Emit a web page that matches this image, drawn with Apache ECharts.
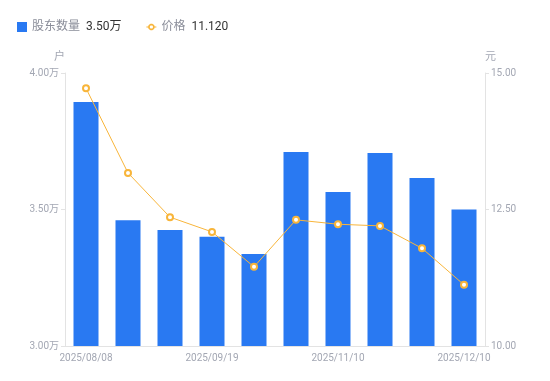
<!DOCTYPE html>
<html><head><meta charset="utf-8">
<script src="https://cdn.jsdelivr.net/npm/echarts@6/dist/echarts.min.js"></script>
<style>html,body{margin:0;padding:0;background:#fff}#c{width:550px;height:381px}</style>
</head><body><div id="c"></div>
<script>
const categories = ['2025/08/08','2025/08/20','2025/08/29','2025/09/19','2025/09/30','2025/10/20','2025/11/10','2025/11/20','2025/11/28','2025/12/10'];
const holders = [38940, 34610, 34250, 34000, 33370, 37110, 35640, 37070, 36150, 35000];
const prices = [14.72, 13.17, 12.36, 12.09, 11.45, 12.31, 12.23, 12.20, 11.79, 11.12];

function ringPath(){
  const n = 24, cx = 5, cy = 5, R = 3.3, r = 1.6;
  let s = 'path://M0,0H0.01V0.01H0Z M0,9.99H0.01V10H0Z M0,4.5H2.2V5.5H0Z M7.8,4.5H10V5.5H7.8Z ';
  for (let i = 0; i <= n; i++) {
    const a = 2*Math.PI*i/n;
    s += (i===0?'M':'L') + (cx+R*Math.cos(a)).toFixed(3)+','+(cy+R*Math.sin(a)).toFixed(3)+' ';
  }
  s += 'Z ';
  for (let i = 0; i <= n; i++) {
    const a = -2*Math.PI*i/n;
    s += (i===0?'M':'L') + (cx+r*Math.cos(a)).toFixed(3)+','+(cy+r*Math.sin(a)).toFixed(3)+' ';
  }
  return s + 'Z';
}

const chart = echarts.init(document.getElementById('c'), null, {renderer:'canvas'});
const lastH = holders[holders.length-1], lastP = prices[prices.length-1];
chart.setOption({
  animation:false,
  textStyle:{fontFamily:'Roboto, "Noto Sans CJK SC", sans-serif'},
  legend:{
    left:12, top:16, itemWidth:10, itemHeight:10, itemGap:25,
    data:[{name:'股东数量', icon:'rect'},
          {name:'价格', icon:ringPath(), itemStyle:{color:'#f8b53a', borderWidth:0}}],
    formatter:function(n){
      return n==='股东数量' ? '{a|股东数量}{b|'+(lastH/10000).toFixed(2)+'万}' : '{a|价格}{b|'+lastP.toFixed(3)+'}';
    },
    textStyle:{rich:{a:{color:'#8a8d99',fontSize:12,padding:[0,6,0,0]},b:{color:'#333',fontSize:12}}}
  },
  grid:{left:65,right:65,top:73,bottom:35},
  xAxis:{
    type:'category', data:categories,
    axisLine:{lineStyle:{color:'#e3e3e3'}},
    axisTick:{show:false},
    axisLabel:{interval:2, color:'#a3a7b3', fontSize:10, margin:7}
  },
  yAxis:[
    {type:'value', min:30000, max:40000, interval:5000, name:'户',
     nameTextStyle:{color:'#a3a7b3',fontSize:11,align:'right'},
     nameGap:10,
     axisLine:{show:true,lineStyle:{color:'#e3e3e3'}},
     axisTick:{show:true,length:4,lineStyle:{color:'#e3e3e3'}},
     splitLine:{show:false},
     axisLabel:{color:'#a3a7b3',fontSize:10,margin:6,formatter:function(v){return (v/10000).toFixed(2)+'万';}}},
    {type:'value', min:10, max:15, interval:2.5, name:'元', position:'right',
     nameTextStyle:{color:'#a3a7b3',fontSize:11,align:'left'},
     nameGap:10,
     axisLine:{show:true,lineStyle:{color:'#e3e3e3'}},
     axisTick:{show:true,length:4,lineStyle:{color:'#e3e3e3'}},
     splitLine:{show:false},
     axisLabel:{color:'#a3a7b3',fontSize:10,margin:6,formatter:function(v){return v.toFixed(2);}}}
  ],
  series:[
    {name:'股东数量', type:'bar', data:holders, barWidth:25, itemStyle:{color:'#2979f2'}},
    {name:'价格', type:'line', yAxisIndex:1, data:prices, symbol:'circle', symbolSize:6,
     lineStyle:{color:'#f8b53a',width:1}, itemStyle:{color:'#fff',borderColor:'#f8b53a',borderWidth:2}}
  ]
});
</script></body></html>
